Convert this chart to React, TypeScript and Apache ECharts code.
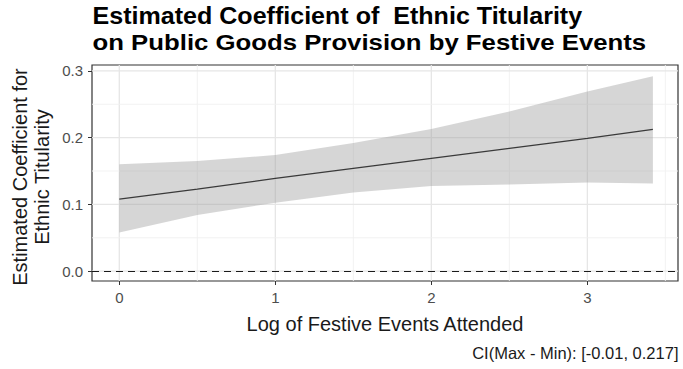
import React, { useEffect, useRef } from "react";
import * as echarts from "echarts";

const FONT = '"Liberation Sans", Arial, Helvetica, sans-serif';

const titleLines = [
  "Estimated Coefficient of  Ethnic Titularity",
  "on Public Goods Provision by Festive Events",
];
const xAxisTitle = "Log of Festive Events Attended";
const yAxisTitle = "Estimated Coefficient for\nEthnic Titularity";
const caption = "CI(Max - Min): [-0.01, 0.217]";

// Log of festive events attended
const xs = [0, 0.5, 1, 1.5, 2, 2.5, 3, 3.42];
// Estimated coefficient
const estimate = [0.108, 0.123, 0.139, 0.154, 0.169, 0.184, 0.199, 0.2125];
// Confidence band
const lower = [0.058, 0.084, 0.1025, 0.118, 0.1275, 0.13, 0.133, 0.1315];
const upper = [0.16, 0.165, 0.174, 0.192, 0.213, 0.239, 0.269, 0.292];

const xTicks = [0, 1, 2, 3];
const xMinorGrid = [0.5, 1.5, 2.5, 3.5];
const yTicks = [0, 0.1, 0.2, 0.3];
const yMinorGrid = [0.05, 0.15, 0.25];

export default function App() {
  const ref = useRef<HTMLDivElement>(null);

  useEffect(() => {
    if (!ref.current) return;
    const chart = echarts.init(ref.current, null, { renderer: "svg" });

    const gridData: number[][] = [];
    xTicks.forEach((v) => gridData.push([0, v, 1]));
    xMinorGrid.forEach((v) => gridData.push([0, v, 0]));
    yTicks.forEach((v) => gridData.push([1, v, 1]));
    yMinorGrid.forEach((v) => gridData.push([1, v, 0]));

    const option: any = {
      animation: false,
      backgroundColor: "#ffffff",
      grid: {
        left: 92,
        right: 5,
        top: 65,
        bottom: 88,
        show: true,
        borderColor: "#333333",
        borderWidth: 1.2,
        backgroundColor: "transparent",
        outerBoundsMode: "none",
      },
      xAxis: {
        type: "value",
        min: -0.175,
        max: 3.581,
        axisLine: { show: false, onZero: false },
        axisTick: {
          show: true,
          length: 4,
          customValues: xTicks,
          lineStyle: { color: "#333333", width: 1 },
        },
        axisLabel: {
          customValues: xTicks,
          color: "#4d4d4d",
          fontSize: 15,
          margin: 9,
          fontFamily: FONT,
          formatter: (v: number) => String(v),
        },
        splitLine: { show: false },
        name: xAxisTitle,
        nameLocation: "middle",
        nameGap: 33,
        nameTextStyle: { fontSize: 20, color: "#1a1a1a", fontFamily: FONT },
      },
      yAxis: {
        type: "value",
        min: -0.0147,
        max: 0.3088,
        axisLine: { show: false, onZero: false },
        axisTick: {
          show: true,
          length: 4,
          customValues: yTicks,
          lineStyle: { color: "#333333", width: 1 },
        },
        axisLabel: {
          customValues: yTicks,
          color: "#4d4d4d",
          fontSize: 15,
          margin: 9,
          fontFamily: FONT,
          formatter: (v: number) => v.toFixed(1),
        },
        splitLine: { show: false },
      },
      graphic: [
        {
          type: "text",
          x: 92.5,
          y: 16.3,
          scaleX: 1.09,
          style: {
            x: 0,
            y: 0,
            text: titleLines[0],
            font: `bold 23px ${FONT}`,
            fill: "#000000",
            textAlign: "left",
            textVerticalAlign: "middle",
          },
        },
        {
          type: "text",
          x: 92.5,
          y: 41.7,
          scaleX: 1.12,
          style: {
            x: 0,
            y: 0,
            text: titleLines[1],
            font: `bold 23px ${FONT}`,
            fill: "#000000",
            textAlign: "left",
            textVerticalAlign: "middle",
          },
        },
        {
          type: "text",
          x: 31,
          y: 177,
          rotation: Math.PI / 2,
          style: {
            x: 0,
            y: 0,
            text: yAxisTitle,
            font: `20px ${FONT}`,
            lineHeight: 22.6,
            fill: "#1a1a1a",
            textAlign: "center",
            textVerticalAlign: "middle",
          },
        },
        {
          type: "text",
          x: 678.5,
          y: 353,
          style: {
            x: 0,
            y: 0,
            text: caption,
            font: `16.5px ${FONT}`,
            fill: "#1a1a1a",
            textAlign: "right",
            textVerticalAlign: "middle",
          },
        },
      ],
      series: [
        {
          type: "custom",
          silent: true,
          z: 1,
          clip: false,
          data: gridData,
          renderItem: (params: any, api: any) => {
            const cs = params.coordSys;
            const dim = api.value(0);
            const v = api.value(1);
            const major = api.value(2) === 1;
            const stroke = major ? "#e6e6e6" : "#f0f0f0";
            const lineWidth = major ? 1.3 : 0.9;
            if (dim === 0) {
              const p = api.coord([v, 0]);
              return {
                type: "line",
                shape: { x1: p[0], y1: cs.y, x2: p[0], y2: cs.y + cs.height },
                style: { stroke, lineWidth },
              };
            }
            const p = api.coord([0, v]);
            return {
              type: "line",
              shape: { x1: cs.x, y1: p[1], x2: cs.x + cs.width, y2: p[1] },
              style: { stroke, lineWidth },
            };
          },
        },
        {
          name: "band",
          type: "custom",
          silent: true,
          z: 2,
          clip: false,
          data: [[xs[0], lower[0]]],
          renderItem: (_params: any, api: any) => {
            const top = xs.map((x, i) => api.coord([x, upper[i]]));
            const bottom = xs
              .map((x, i) => api.coord([x, lower[i]]))
              .reverse();
            return {
              type: "polygon",
              shape: { points: top.concat(bottom) },
              style: { fill: "rgba(153,153,153,0.4)" },
            };
          },
        },
        {
          name: "estimate",
          type: "line",
          z: 3,
          silent: true,
          symbol: "none",
          lineStyle: { color: "#3a3a3a", width: 1.2 },
          data: xs.map((x, i) => [x, estimate[i]]),
          markLine: {
            silent: true,
            symbol: ["none", "none"],
            label: { show: false },
            lineStyle: { type: [7, 5], color: "#1a1a1a", width: 1.2 },
            data: [{ yAxis: 0 }],
          },
        },
      ],
    };

    chart.setOption(option);
    return () => chart.dispose();
  }, []);

  return (
    <div
      ref={ref}
      style={{ position: "fixed", left: 0, top: 0, width: 683, height: 369 }}
    />
  );
}
